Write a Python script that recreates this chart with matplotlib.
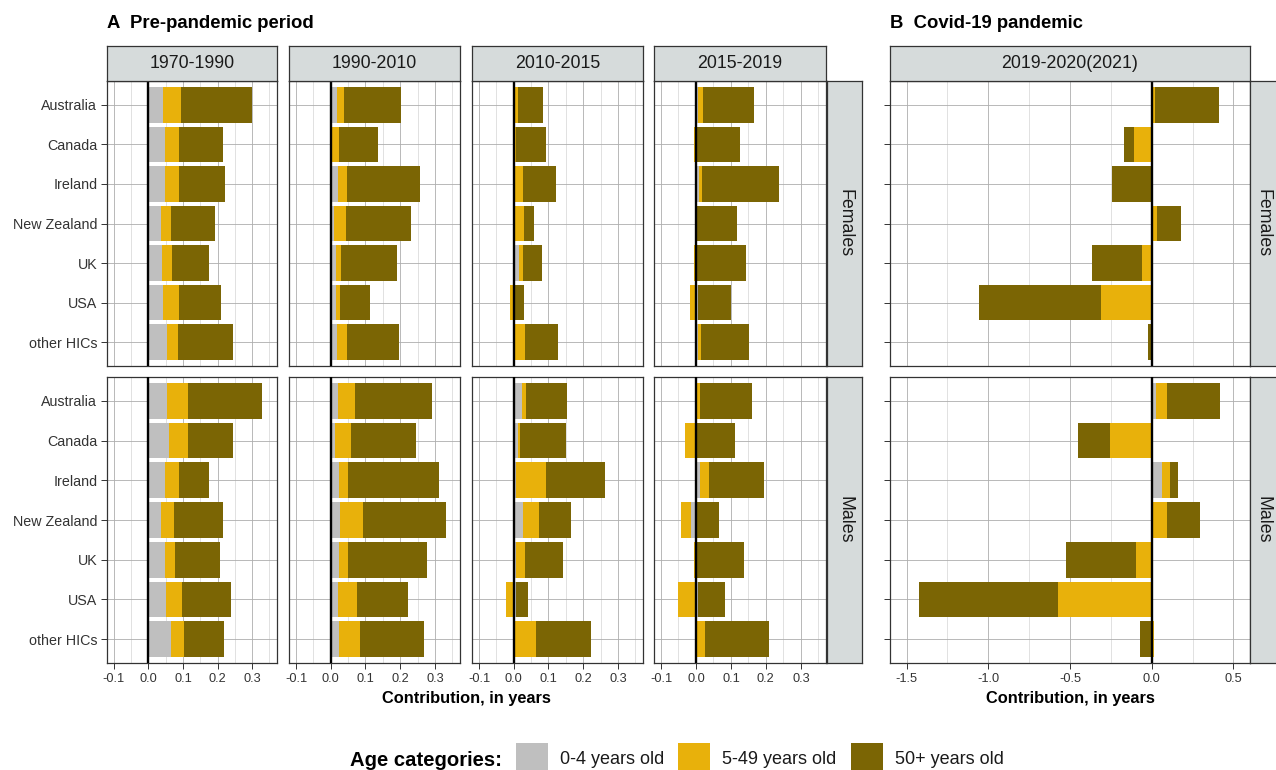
import numpy as np
import matplotlib
matplotlib.use("Agg")
import matplotlib.pyplot as plt
from matplotlib.patches import Rectangle

plt.rcParams["font.family"] = ["Liberation Sans", "DejaVu Sans"]

countries = ["Australia", "Canada", "Ireland", "New Zealand", "UK", "USA", "other HICs"]
periods_pre = ["1970-1990", "1990-2010", "2010-2015", "2015-2019"]
period_covid = "2019-2020(2021)"
sexes = ["Females", "Males"]
age_labels = ["0-4 years old", "5-49 years old", "50+ years old"]
age_colors = ["#BFBFBF", "#E8B10B", "#7B6504"]

# contributions (years), one row per period: 1970-1990, 1990-2010, 2010-2015, 2015-2019, 2019-2020(2021)
fem_0_4 = [
    [0.042, 0.048, 0.047, 0.037, 0.038, 0.042, 0.055],
    [0.019, 0.005, 0.021, 0.010, 0.015, 0.014, 0.019],
    [0.003, 0.002, 0.004, 0.005, 0.014, 0.005, 0.005],
    [0.006, 0.000, 0.008, 0.002, 0.000, 0.006, 0.005],
    [0.003, 0.000, 0.000, 0.005, 0.000, 0.000, 0.000],
]
fem_5_49 = [
    [0.051, 0.040, 0.041, 0.029, 0.031, 0.045, 0.030],
    [0.020, 0.018, 0.027, 0.035, 0.015, 0.013, 0.028],
    [0.010, 0.006, 0.023, 0.025, 0.013, -0.012, 0.028],
    [0.015, -0.006, 0.010, 0.001, -0.005, -0.016, 0.010],
    [0.015, -0.108, -0.005, 0.025, -0.057, -0.310, -0.004],
]
fem_50 = [
    [0.206, 0.129, 0.133, 0.126, 0.106, 0.122, 0.161],
    [0.164, 0.114, 0.210, 0.185, 0.162, 0.085, 0.149],
    [0.071, 0.084, 0.094, 0.029, 0.054, 0.024, 0.094],
    [0.145, 0.126, 0.219, 0.113, 0.142, 0.094, 0.138],
    [0.394, -0.060, -0.240, 0.150, -0.306, -0.745, -0.018],
]
male_0_4 = [
    [0.053, 0.059, 0.048, 0.035, 0.048, 0.050, 0.065],
    [0.022, 0.012, 0.025, 0.026, 0.024, 0.022, 0.024],
    [0.025, 0.012, 0.006, 0.028, 0.006, 0.006, 0.005],
    [0.003, 0.002, 0.011, -0.014, 0.000, 0.007, 0.004],
    [0.024, 0.000, 0.063, 0.003, 0.000, 0.000, 0.005],
]
male_5_49 = [
    [0.062, 0.055, 0.039, 0.039, 0.029, 0.048, 0.037],
    [0.047, 0.046, 0.026, 0.067, 0.027, 0.054, 0.061],
    [0.009, 0.005, 0.088, 0.044, 0.027, -0.022, 0.058],
    [0.010, -0.031, 0.025, -0.030, -0.005, -0.050, 0.023],
    [0.071, -0.255, 0.051, 0.090, -0.096, -0.571, 0.012],
]
male_50 = [
    [0.213, 0.131, 0.088, 0.141, 0.130, 0.142, 0.116],
    [0.223, 0.187, 0.261, 0.238, 0.226, 0.145, 0.182],
    [0.120, 0.133, 0.170, 0.093, 0.108, 0.035, 0.160],
    [0.147, 0.111, 0.159, 0.067, 0.138, 0.075, 0.181],
    [0.325, -0.198, 0.045, 0.200, -0.431, -0.855, -0.071],
]

xticks_pre = [-0.1, 0.0, 0.1, 0.2, 0.3]
xticks_covid = [-1.5, -1.0, -0.5, 0.0, 0.5]

W, H = 1276, 770
fig = plt.figure(figsize=(W / 100, H / 100), dpi=100)

EDGE = "#333333"
STRIP = "#D6DBDB"


def rect(x0, y0, x1, y1):
    return [x0 / W, 1 - y1 / H, (x1 - x0) / W, (y1 - y0) / H]


def strip(x0, y0, x1, y1, label, rot=0):
    s = fig.add_axes(rect(x0, y0, x1, y1))
    s.set_facecolor(STRIP)
    s.set_xticks([])
    s.set_yticks([])
    for sp in s.spines.values():
        sp.set_color(EDGE)
        sp.set_linewidth(0.9)
    s.text(0.5, 0.5, label, transform=s.transAxes, ha="center", va="center",
           rotation=rot, fontsize=12.8, color="#1a1a1a")
    return s


def panel(ax, groups, xlim, majors, minors, show_x, show_ylab, show_yticks):
    ypos = np.arange(len(countries))
    pos = np.zeros(len(countries))
    neg = np.zeros(len(countries))
    for vals, col in zip(groups, age_colors):
        vals = np.asarray(vals, dtype=float)
        left = np.where(vals >= 0, pos, neg)
        ax.barh(ypos, vals, left=left, height=0.9, color=col, linewidth=0, zorder=2)
        pos += np.clip(vals, 0, None)
        neg += np.clip(vals, None, 0)
    ax.axvline(0, color="black", lw=1.7, zorder=3)
    ax.set_xlim(*xlim)
    ax.set_ylim(len(countries) - 0.4, -0.6)
    ax.set_xticks(majors)
    ax.set_xticks(minors, minor=True)
    ax.set_yticks(ypos)
    ax.grid(which="major", color="#ADADAD", lw=0.6, zorder=0)
    ax.grid(which="minor", axis="x", color="#DCDCDC", lw=0.6, zorder=0)
    ax.set_axisbelow(True)
    for sp in ax.spines.values():
        sp.set_color(EDGE)
        sp.set_linewidth(0.9)
    ax.tick_params(which="minor", length=0)
    ax.tick_params(axis="x", which="major", length=4 if show_x else 0, width=0.7,
                   color=EDGE, pad=3, labelsize=9.2, labelcolor="#333333",
                   labelbottom=show_x)
    ax.tick_params(axis="y", which="major", length=4 if show_yticks else 0, width=0.7,
                   color=EDGE, pad=3, labelsize=10.3, labelcolor="#333333",
                   labelleft=show_ylab)
    if show_x:
        ax.set_xticklabels([f"{v:.1f}" for v in majors])
    if show_ylab:
        ax.set_yticklabels(countries)


cols_pre = [(107, 277), (289, 460), (472, 643), (654, 826)]
col_covid = (890, 1250)
rows = [(81, 366), (377, 663)]
data_by_sex = [(fem_0_4, fem_5_49, fem_50), (male_0_4, male_5_49, male_50)]

minors_pre = np.arange(-0.1, 0.36, 0.05)
minors_covid = np.arange(-1.5, 0.6, 0.25)

for r, (y0, y1) in enumerate(rows):
    g0, g1, g2 = data_by_sex[r]
    for c, (x0, x1) in enumerate(cols_pre):
        ax = fig.add_axes(rect(x0, y0, x1, y1))
        panel(ax, (g0[c], g1[c], g2[c]), (-0.12, 0.372), xticks_pre, minors_pre,
              show_x=(r == 1), show_ylab=(c == 0), show_yticks=(c == 0))
    ax = fig.add_axes(rect(col_covid[0], y0, col_covid[1], y1))
    panel(ax, (g0[4], g1[4], g2[4]), (-1.602, 0.602), xticks_covid, minors_covid,
          show_x=(r == 1), show_ylab=False, show_yticks=True)
    strip(827, y0, 862, y1, sexes[r], rot=-90)
    strip(1250, y0, 1277, y1, sexes[r], rot=-90)

for (x0, x1), lab in zip(cols_pre, periods_pre):
    strip(x0, 46, x1, 81, lab)
strip(col_covid[0], 46, col_covid[1], 81, period_covid)

fig.text(107 / W, 1 - 24 / H, "A  Pre-pandemic period", fontsize=13.3,
         fontweight="bold", ha="left", va="center")
fig.text(890 / W, 1 - 24 / H, "B  Covid-19 pandemic", fontsize=13.3,
         fontweight="bold", ha="left", va="center")
fig.text(466 / W, 1 - 699 / H, "Contribution, in years", fontsize=11.8,
         fontweight="bold", ha="center", va="center")
fig.text(1070 / W, 1 - 699 / H, "Contribution, in years", fontsize=11.8,
         fontweight="bold", ha="center", va="center")

# legend along the bottom edge
fig.text(350 / W, 1 - 760 / H, "Age categories:", fontsize=14.6,
         fontweight="bold", ha="left", va="center")
key_x = [516, 678, 851]
for kx, col, lab in zip(key_x, age_colors, age_labels):
    fig.patches.append(Rectangle((kx / W, 1 - 776 / H), 32 / W, 33 / H,
                                 transform=fig.transFigure, facecolor=col,
                                 edgecolor="none"))
    fig.text((kx + 44) / W, 1 - 760 / H, lab, fontsize=13, ha="left",
             va="center", color="#1a1a1a")

fig.savefig("out.png", dpi=100)
